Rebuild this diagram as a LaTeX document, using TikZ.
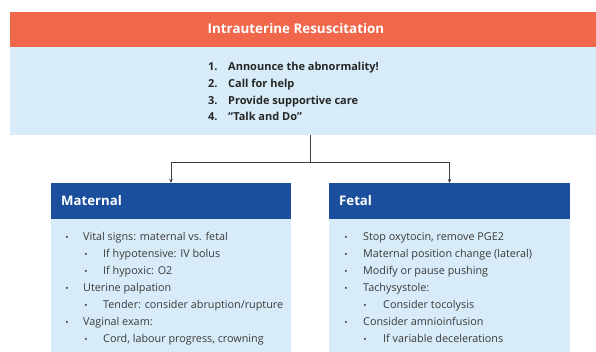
\documentclass[tikz,border=0pt]{standalone}
\usepackage{fontspec}
\setmainfont{Open Sans}
\usetikzlibrary{arrows.meta}
\definecolor{orangebar}{HTML}{F0674B}
\definecolor{lightbox}{HTML}{D7ECF8}
\definecolor{darkblue}{HTML}{1B4F9E}
\definecolor{bodytext}{HTML}{3A3A3A}
\definecolor{linegray}{HTML}{404040}
\tikzset{
  fillbox/.style={draw=none, inner sep=0pt, outer sep=0pt, minimum height=#1},
  toptext/.style={anchor=base west, inner sep=0pt, font=\fontsize{11}{13}\bfseries\selectfont, text=black!85},
  headtext/.style={anchor=base west, inner sep=0pt, font=\fontsize{13.2}{15}\bfseries\selectfont, text=white},
  itemtext/.style={anchor=base west, inner sep=0pt, font=\fontsize{10.8}{13}\selectfont, text=bodytext},
  bul/.style={anchor=base, inner sep=0pt, font=\fontsize{8.5}{10}\selectfont, text=bodytext},
  conn/.style={draw=linegray, line width=0.8pt},
  tip/.style={-{Stealth[length=4pt,width=3.5pt]}}
}
\begin{document}
\begin{tikzpicture}[x=1pt,y=-1pt]
\useasboundingbox[fill=white] (0,0) rectangle (596,352);
% top boxes
\node[fillbox=35pt, fill=orangebar, minimum width=586pt, anchor=north west] (title) at (10,12) {};
\node[anchor=base, inner sep=0pt, font=\fontsize{13.4}{15}\bfseries\selectfont, text=white] (titletext) at (296,34) {Intrauterine Resuscitation};
\node[fillbox=88pt, fill=lightbox, minimum width=586pt, anchor=north west] (steps) at (10,47) {};
\node[toptext] (n1) at (208,70.5) {1.};
\node[toptext] (s1) at (228,70.5) {Announce the abnormality!};
\node[toptext] (n2) at (208,87.5) {2.};
\node[toptext] (s2) at (228,87.5) {Call for help};
\node[toptext] (n3) at (208,104.5) {3.};
\node[toptext] (s3) at (228,104.5) {Provide supportive care};
\node[toptext] (n4) at (208,121) {4.};
\node[toptext] (s4) at (228,121) {“Talk and Do”};
% maternal
\node[fillbox=36pt, fill=darkblue, minimum width=240pt, anchor=north west] (mh) at (51,183) {};
\node[headtext] (mht) at (61,206) {Maternal};
\node[fillbox=133pt, fill=lightbox, minimum width=240pt, anchor=north west] (mb) at (51,219) {};
% fetal
\node[fillbox=36pt, fill=darkblue, minimum width=241pt, anchor=north west] (fh) at (329,183) {};
\node[headtext] (fht) at (339,206) {Fetal};
\node[fillbox=133pt, fill=lightbox, minimum width=241pt, anchor=north west] (fb) at (329,219) {};
% maternal items
\node[bul] (mb1) at (67,240.5) {•};
\node[itemtext] (mt1) at (83,241) {Vital signs: maternal vs. fetal};
\node[bul] (mb2) at (86,257.5) {•};
\node[itemtext] (mt2) at (103,258) {If hypotensive: IV bolus};
\node[bul] (mb3) at (86,274.5) {•};
\node[itemtext] (mt3) at (103,275) {If hypoxic: O2};
\node[bul] (mb4) at (67,291) {•};
\node[itemtext] (mt4) at (83,291.5) {Uterine palpation};
\node[bul] (mb5) at (86,308) {•};
\node[itemtext] (mt5) at (103,308.5) {Tender: consider abruption/rupture};
\node[bul] (mb6) at (67,325) {•};
\node[itemtext] (mt6) at (83,325.5) {Vaginal exam:};
\node[bul] (mb7) at (86,342) {•};
\node[itemtext] (mt7) at (103,342.5) {Cord, labour progress, crowning};
% fetal items
\node[bul] (fb1) at (346,240.5) {•};
\node[itemtext] (ft1) at (363,241) {Stop oxytocin, remove PGE2};
\node[bul] (fb2) at (346,257.5) {•};
\node[itemtext] (ft2) at (363,258) {Maternal position change (lateral)};
\node[bul] (fb3) at (346,274.5) {•};
\node[itemtext] (ft3) at (363,275) {Modify or pause pushing};
\node[bul] (fb4) at (346,291) {•};
\node[itemtext] (ft4) at (363,291.5) {Tachysystole:};
\node[bul] (fb5) at (365,308) {•};
\node[itemtext] (ft5) at (383,308.5) {Consider tocolysis};
\node[bul] (fb6) at (346,325) {•};
\node[itemtext] (ft6) at (363,325.5) {Consider amnioinfusion};
\node[bul] (fb7) at (365,342) {•};
\node[itemtext] (ft7) at (383,342.5) {If variable decelerations};
% connectors
\coordinate (j) at (310.5,162);
\draw[conn] (steps.south -| j) -- (j);
\draw[conn, tip] (j) -| (mh.north);
\draw[conn, tip] (j) -| (fh.north);
\end{tikzpicture}
\end{document}
